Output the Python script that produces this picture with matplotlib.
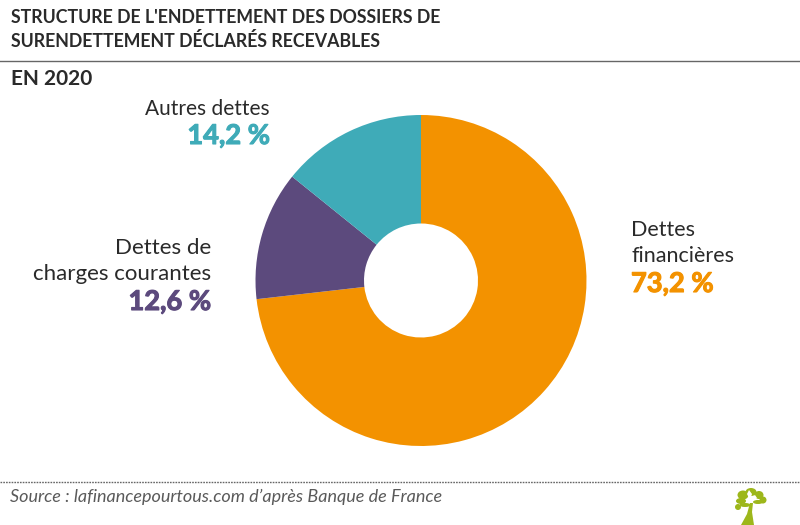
import matplotlib
matplotlib.use("Agg")
import matplotlib.pyplot as plt
import matplotlib.patheffects as pe
from matplotlib.patches import Polygon, Ellipse
from matplotlib.lines import Line2D

labels = ["Dettes\nfinancières", "Dettes de\ncharges courantes", "Autres dettes"]
values = [73.2, 12.6, 14.2]
value_labels = ["73,2 %", "12,6 %", "14,2 %"]
colors = ["#F39200", "#5C4A7D", "#3FABB8"]
title = "STRUCTURE DE L'ENDETTEMENT DES DOSSIERS DE\nSURENDETTEMENT DÉCLARÉS RECEVABLES"
subtitle = "EN 2020"
source = "Source : lafinancepourtous.com d’après Banque de France"

plt.rcParams['font.family'] = ['Lato', 'DejaVu Sans']
W, H = 800, 525
fig = plt.figure(figsize=(8, 5.25), dpi=100)
bg = fig.add_axes([0, 0, 1, 1])
bg.set_xlim(0, W); bg.set_ylim(H, 0); bg.axis('off')

cx, cy, r = 421, 280.5, 165.5
ax = fig.add_axes([(cx-r)/W, 1-(cy+r)/H, 2*r/W, 2*r/H])
ax.pie(values, colors=colors, startangle=90, counterclock=False, radius=1,
       wedgeprops=dict(width=1-57/165.5, linewidth=0))
ax.set_xlim(-1, 1); ax.set_ylim(-1, 1)

tc = "#2A2A2A"
lines = title.split("\n")
bg.text(11, 17.5, lines[0], fontsize=12.8, fontweight='bold', color=tc, va='center')
bg.text(11, 41, lines[1], fontsize=12.8, fontweight='bold', color=tc, va='center')
bg.add_line(Line2D([0, 800], [61, 61], color="#666666", lw=1.0))
bg.text(11, 79, subtitle, fontsize=15, fontweight='bold', color=tc, va='center')

def value_text(x, y, s, color, ha):
    bg.text(x, y, s, fontsize=19.6, fontweight='bold', color=color, va='center', ha=ha,
            path_effects=[pe.withStroke(linewidth=0.8, foreground=color)])

bg.text(631, 243, labels[0], fontsize=15.5, color=tc, va='center', ha='left', linespacing=1.35)
value_text(631, 284, value_labels[0], colors[0], 'left')
bg.text(211, 261, labels[1], fontsize=16, color=tc, va='center', ha='right', linespacing=1.32)
value_text(211, 302, value_labels[1], colors[1], 'right')
bg.text(270, 109, labels[2], fontsize=15, color=tc, va='center', ha='right')
value_text(270, 136, value_labels[2], colors[2], 'right')

bg.add_line(Line2D([0, 800], [481.5, 481.5], color="#666666", lw=1.0, dashes=(1.2, 0.8)))
bg.text(10, 497, source, fontsize=13, style='italic', color="#5A5A5A", va='center')

# logo
green = "#9DB71B"
bg.add_patch(Polygon([[741, 525], [754, 525], [752, 512], [753, 503], [750, 503], [747, 514]],
                     closed=True, fc=green, ec='none'))
for x, y, w, h in [(743, 495, 11, 9), (751, 492, 11, 8), (759, 495, 9, 8), (763, 500, 7, 7),
                   (741, 501, 10, 6), (738, 507, 6, 6), (745, 505, 11, 4), (758, 502, 10, 4)]:
    bg.add_patch(Ellipse((x, y), w, h, fc=green, ec='none'))
bg.add_patch(Polygon([[749, 490], [752, 494], [750, 500], [747, 494]], closed=True, fc='white', ec='none'))
bg.add_patch(Polygon([[755, 495], [757, 498], [752, 501], [752, 498]], closed=True, fc='white', ec='none'))

fig.savefig("out.png", dpi=100)
